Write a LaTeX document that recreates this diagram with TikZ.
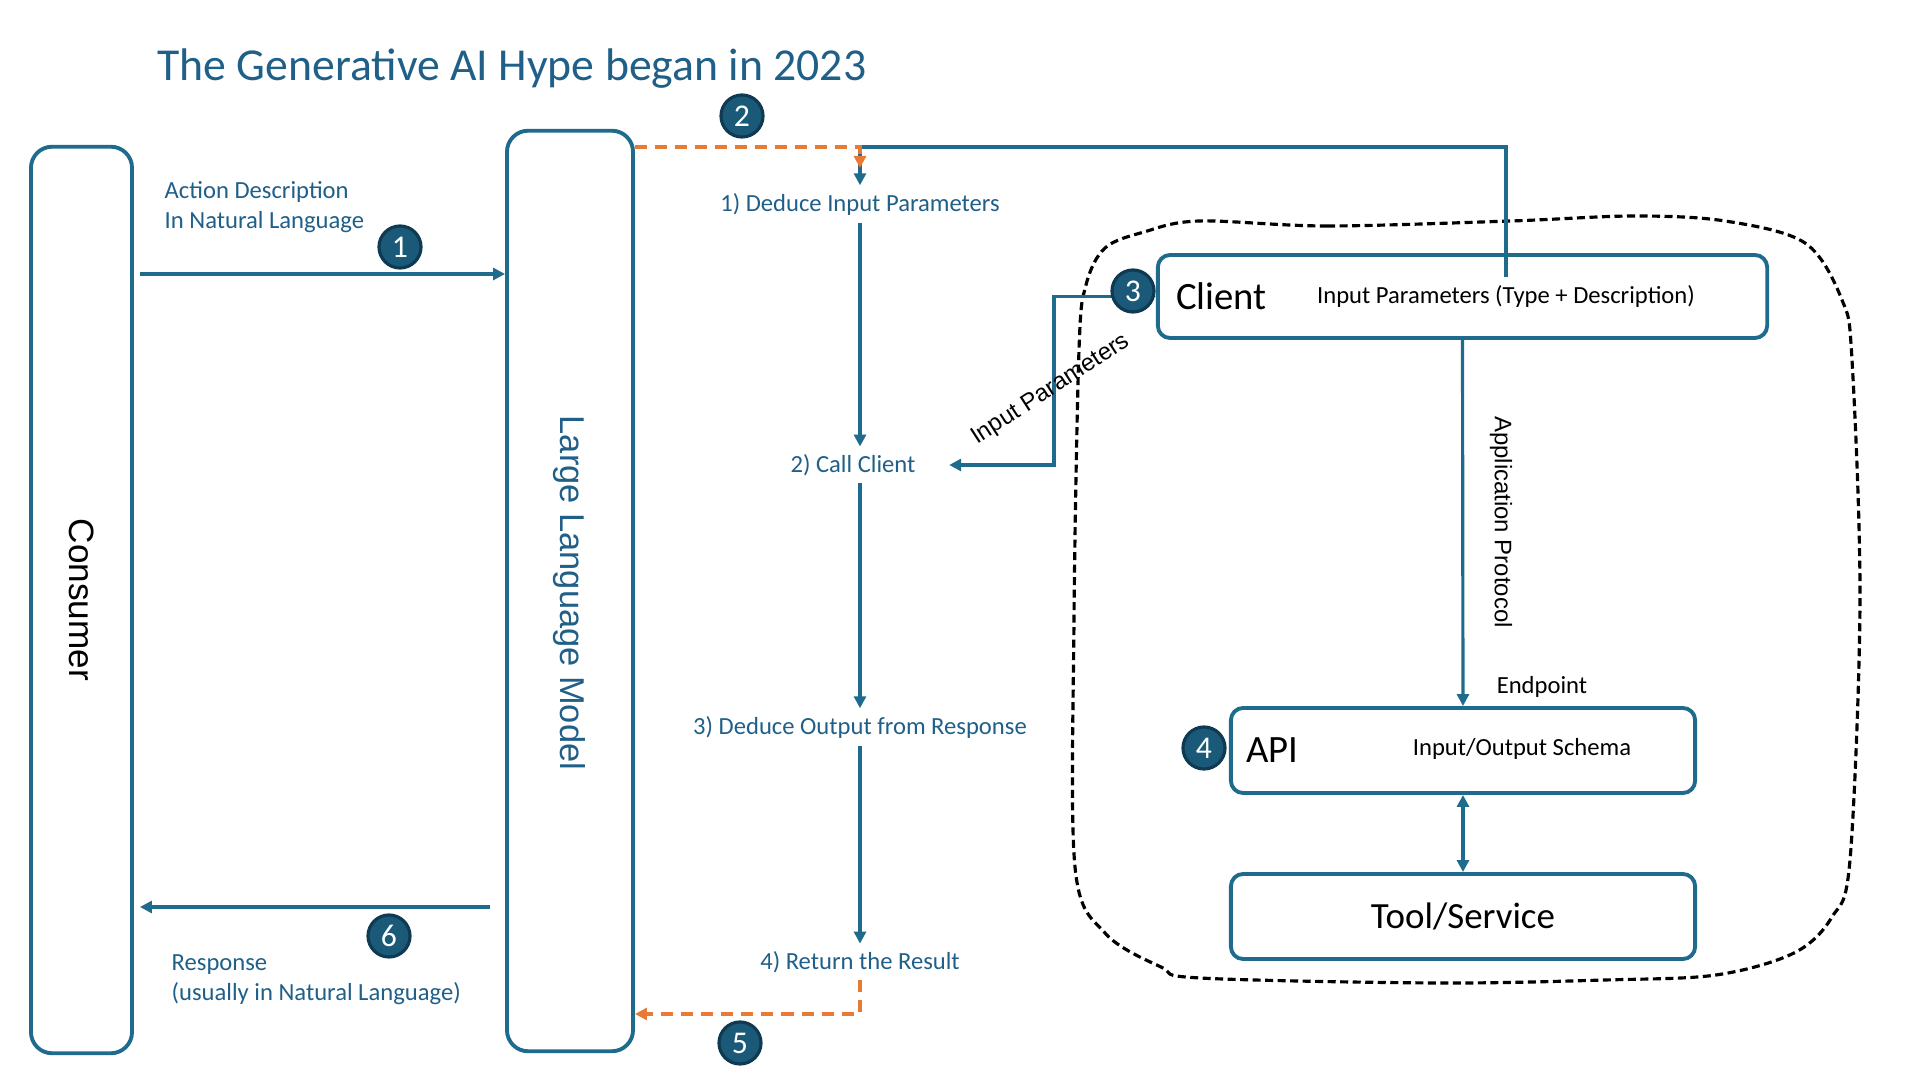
\documentclass[tikz,border=0pt]{standalone}
\usepackage{fontspec}
\setmainfont{Carlito}
\newfontfamily\arialfont{Liberation Sans}
\usetikzlibrary{arrows.meta,positioning,calc}
\definecolor{flowblue}{HTML}{1F6B8D}
\definecolor{labelblue}{HTML}{1F5F88}
\definecolor{badgeblue}{HTML}{1A5978}
\definecolor{badgeedge}{HTML}{0F3A52}
\definecolor{callorange}{HTML}{E87A35}
\tikzset{
  lanebox/.style={draw=flowblue,line width=1.1pt,rounded corners=6pt},
  sysbox/.style={draw=flowblue,line width=1.1pt,rounded corners=3.5pt},
  steptext/.style={text=labelblue,font=\fontsize{7}{8.4}\selectfont,inner sep=2pt},
  notetext/.style={text=labelblue,font=\fontsize{7}{8.4}\selectfont,align=left,inner sep=0pt},
  boxtext/.style={font=\fontsize{7}{8.4}\selectfont,inner sep=2pt},
  sidetext/.style={font=\arialfont\fontsize{6.8}{8}\selectfont},
  badge/.style={circle,fill=badgeblue,draw=badgeedge,line width=0.9pt,text=white,
    minimum size=0.42cm,inner sep=0pt,font=\fontsize{9}{9}\selectfont},
  flow/.style={-{Triangle[length=1.2mm,width=1.2mm]},draw=flowblue,line width=0.9pt},
  biflow/.style={{Triangle[length=1.2mm,width=1.2mm]}-{Triangle[length=1.2mm,width=1.2mm]},
    draw=flowblue,line width=0.9pt},
  callflow/.style={-{Triangle[length=1.2mm,width=1.2mm]},draw=callorange,line width=0.9pt,
    dash pattern=on 1.2mm off 0.8mm}
}

\begin{document}
\begin{tikzpicture}[x=0.01cm,y=-0.01cm]
  \useasboundingbox (0,0) rectangle (1920,1080);
  \node[anchor=base west,text=labelblue,font=\fontsize{13}{13}\selectfont] (title) at (145,81)
    {The Generative AI Hype began in 2023};

  % tool side
  \draw[black,line width=0.9pt,dash pattern=on 0.8mm off 0.45mm] plot[smooth cycle,tension=0.55]
    coordinates {(1199,221) (1327,226) (1511,221) (1634,216) (1725,221) (1805,243) (1842,300)
      (1852,360) (1860,600) (1850,860) (1832,917) (1794,953) (1716,975) (1605,980) (1438,983)
      (1200,978) (1161,967) (1105,933) (1075,867) (1074,620) (1079,350) (1086,285)
      (1105,248) (1144,232)};
  \node[sysbox,minimum width=6.09cm,minimum height=0.83cm] (client) at (1462.5,296.5) {};
  \node[anchor=west,font=\fontsize{11}{11}\selectfont] (clientname) at ([xshift=0.08cm]client.west) {Client};
  \node[boxtext] (params) at (1506,296) {Input Parameters (Type + Description)};
  \node[sysbox,minimum width=4.64cm,minimum height=0.85cm] (api) at (1463,750.5) {};
  \node[anchor=west,font=\fontsize{11}{11}\selectfont] (apiname) at ([xshift=0.05cm]api.west) {API};
  \node[boxtext] (schema) at (1522,749) {Input/Output Schema};
  \node[sysbox,minimum width=4.64cm,minimum height=0.85cm,font=\fontsize{10.5}{10.5}\selectfont]
    (tool) at (1463,916.5) {Tool/Service};
  \draw[flow] (client.south) -- (api.north);
  \node[sidetext,rotate=-90] (protocol) at (1501,522) {Application Protocol};
  \node[boxtext] (endpoint) at (1542,687) {Endpoint};
  \draw[biflow] (api.south) -- (tool.north);

  % consumer and model
  \node[lanebox,minimum width=1.01cm,minimum height=9.06cm] (consumer) at (81.5,600) {};
  \node[rotate=-90,font=\arialfont\fontsize{10}{10}\selectfont] (consumerlabel) at (consumer.center) {Consumer};
  \node[lanebox,minimum width=1.26cm,minimum height=9.2cm] (llm) at (570,591) {};
  \node[rotate=-90,text=labelblue,font=\arialfont\fontsize{9.8}{10}\selectfont] (llmlabel) at (569,593)
    {Large Language Model};

  \coordinate (askrail) at (300,274);
  \draw[flow,shorten <=0.06cm] (consumer.east |- askrail) -- (llm.west |- askrail);
  \node[notetext,anchor=north west] (asktext) at (164,181) {Action Description\\In Natural Language};
  \coordinate (replyrail) at (300,907);
  \draw[flow,shorten <=0.15cm,shorten >=0.06cm] (llm.west |- replyrail) -- (consumer.east |- replyrail);
  \node[notetext,anchor=north west] (replytext) at (171,954) {Response\\(usually in Natural Language)};

  % steps inside the model
  \node[steptext] (deduce) at (860,204) {1) Deduce Input Parameters};
  \node[steptext] (call) at (853,465) {2) Call Client};
  \node[steptext] (output) at (860,727) {3) Deduce Output from Response};
  \node[steptext] (result) at (860,962) {4) Return the Result};
  \draw[flow] (deduce.south) -- (deduce.south |- call.north);
  \draw[flow] (deduce.south |- call.south) -- (output.north);
  \draw[flow] (output.south) -- (result.north);

  \coordinate (toprail) at (860,147);
  \coordinate (callhead) at (860,168);
  \draw[flow] (params.north) |- (toprail) -- (deduce.north);
  \draw[callflow] (llm.east |- toprail) -| (callhead);
  \coordinate (retrail) at (700,1014);
  \draw[callflow] (result.south) |- (llm.east |- retrail);

  \coordinate (parambend) at (1054,0);
  \draw[biflow,shorten >=0.26cm] (client.west) -- (client.west -| parambend) |- (call.east);
  \node[sidetext,rotate=33] (paramlabel) at (1051,390) {Input Parameters};

  % numbered badges
  \node[badge] (badgeone) at (400,247) {1};
  \node[badge] (badgetwo) at (742,116) {2};
  \node[badge] (badgethree) at (1133,291) {3};
  \node[badge] (badgefour) at (1204,748) {4};
  \node[badge] (badgefive) at (740,1043) {5};
  \node[badge] (badgesix) at (389,936) {6};
\end{tikzpicture}
\end{document}
